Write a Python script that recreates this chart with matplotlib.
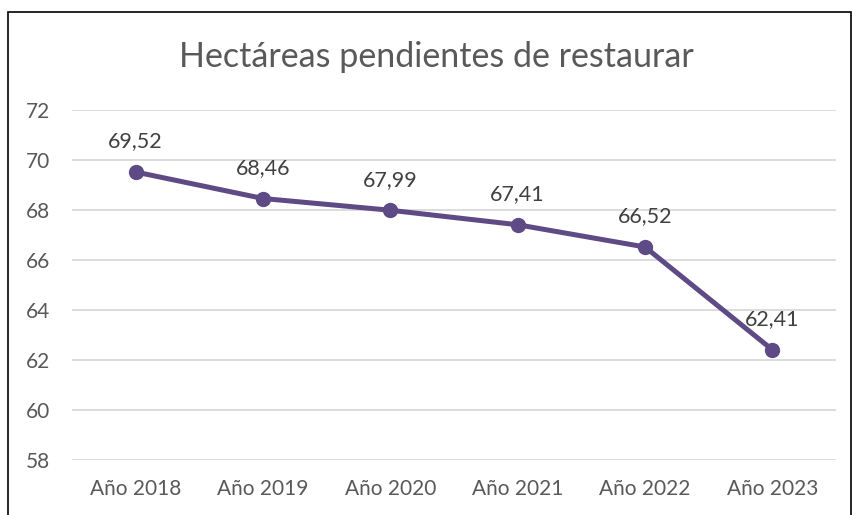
import matplotlib
matplotlib.use('Agg')
import matplotlib.pyplot as plt
from matplotlib.patches import Rectangle

# === DONNÉES ===
categorias = ['Año 2018', 'Año 2019', 'Año 2020', 'Año 2021', 'Año 2022', 'Año 2023']
hectareas = [69.52, 68.46, 67.99, 67.41, 66.52, 62.41]
etiquetas = ['69,52', '68,46', '67,99', '67,41', '66,52', '62,41']
ticks_y = [58, 60, 62, 64, 66, 68, 70, 72]

COLOR_LINEA = '#5E4A84'
COLOR_TEXTO = '#595959'

plt.rcParams['font.family'] = ['Lato', 'DejaVu Sans']

fig = plt.figure(figsize=(8.53, 5.15), dpi=100)
ax = fig.add_axes([72 / 853, 1 - 460 / 515, (836 - 72) / 853, (460 - 110) / 515])

x = list(range(len(categorias)))
ax.plot(x, hectareas, color=COLOR_LINEA, linewidth=3.6, marker='o', markersize=10, zorder=3)

for xi, yi, txt in zip(x, hectareas, etiquetas):
    ax.annotate(txt, (xi, yi), textcoords='offset points', xytext=(0, 22),
                ha='center', va='center', fontsize=15.5, color='#404040')

ax.set_xlim(-0.5, len(categorias) - 0.5)
ax.set_ylim(58, 72)
ax.set_yticks(ticks_y)
ax.set_xticks(x)
ax.set_xticklabels(categorias)
ax.grid(axis='y', color='#d9d9d9', linewidth=1.3)
ax.set_axisbelow(True)
for s in ax.spines.values():
    s.set_visible(False)
ax.tick_params(length=0, labelsize=15, labelcolor=COLOR_TEXTO)
ax.tick_params(axis='y', pad=16)
ax.tick_params(axis='x', pad=14)

fig.text(436 / 853, 1 - 57 / 515, 'Hectáreas pendientes de restaurar',
         ha='center', va='center', fontsize=24.5, color=COLOR_TEXTO)

# cadre du graphique (coupé en bas)
fig.patches.append(Rectangle((8 / 853, -0.05), (851 - 8) / 853, 1.05 - 12 / 515,
                             transform=fig.transFigure, fill=False,
                             edgecolor='black', linewidth=1.2))

fig.savefig('out.png', dpi=100)
